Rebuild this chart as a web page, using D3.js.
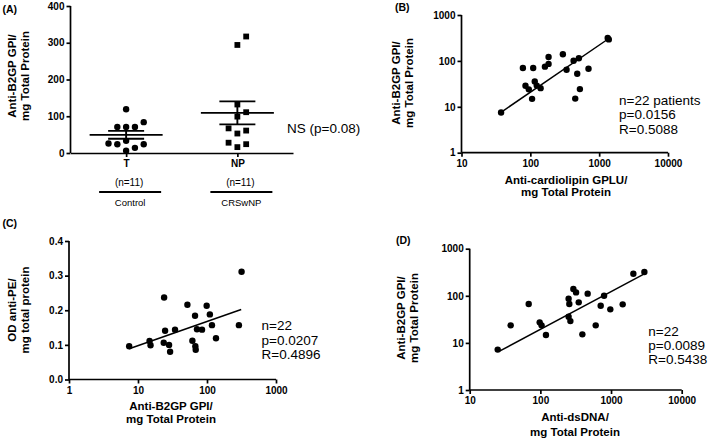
<!DOCTYPE html>
<html>
<head>
<meta charset="utf-8">
<script src="https://cdn.jsdelivr.net/npm/d3@7"></script>
<style>
  html, body { margin: 0; padding: 0; background: #fff; }
  svg { display: block; font-family: "Liberation Sans", Arial, sans-serif; }
  .tick text { font-weight: bold; font-size: 10px; fill: #000; }
  .domain, .tick line { stroke: #000; stroke-width: 1.7px; }
</style>
</head>
<body>
<svg id="chart" width="709" height="440"></svg>
<script>
// ---------- DATA ----------
// Panel A: Anti-B2GP GPI / mg total protein
const groupsA = ["T", "NP"];
const groupNA = ["(n=11)", "(n=11)"];
const groupLabelA = ["Control", "CRSwNP"];
const valuesT = [119, 71, 71, 71, 84, 26, 24, 33, 14, 24, 6];
const valuesNP = [294, 317, 132, 111, 99, 67, 61, 53, 28, 16, 24];
const ticksA = [0, 100, 200, 300, 400];
const noteA = "NS (p=0.08)";

// Panel B: anti-cardiolipin (x) vs anti-B2GP (y)
const cardiolipinB = [37.6, 78, 85, 95, 106, 110, 116, 124, 141, 163, 184, 184, 297, 336, 425, 449, 480, 507, 525, 700, 1330, 1380];
const b2gpB        = [7.5, 70, 28.7, 24, 14.9, 70, 35.7, 29, 25.5, 75, 122, 86, 140, 64, 101, 15.1, 52.5, 114, 24.3, 67.6, 317, 294];
const fitB = [[38, 7.7], [1350, 300]];
const noteB = ["n=22 patients", "p=0.0156", "R=0.5088"];

// Panel C: anti-B2GP (x) vs OD anti-PE (y)
const b2gpC = [7.45, 14.7, 15.2, 23.9, 24.7, 23.6, 28.2, 29.2, 34.4, 52, 61.4, 67.1, 67.8, 68.6, 71.6, 84.7, 98.9, 110, 118, 135, 290, 317];
const odPEC = [0.096, 0.111, 0.099, 0.237, 0.141, 0.106, 0.100, 0.080, 0.144, 0.216, 0.112, 0.184, 0.096, 0.086, 0.145, 0.144, 0.213, 0.188, 0.157, 0.119, 0.157, 0.311];
const fitC = [[7.45, 0.089], [313, 0.202]];
const noteC = ["n=22", "p=0.0207", "R=0.4896"];

// Panel D: anti-dsDNA (x) vs anti-B2GP (y)
const dsDNAD = [24.9, 38, 68.4, 97.8, 104, 120, 251, 257, 251, 266, 293, 320, 349, 393, 467, 607, 714, 797, 977, 1462, 2070, 2964];
const b2gpD  = [7.2, 23.6, 66.9, 27.3, 23.6, 14.7, 86.8, 66.9, 36, 29, 139, 118, 72.6, 15.2, 111, 23.6, 61.6, 100, 51.5, 65.8, 294, 320];
const fitD = [[26, 6.6], [2870, 285]];
const noteD = ["n=22", "p=0.0089", "R=0.5438"];

const logTicks4 = [10, 100, 1000, 10000];
const logTicks3 = [1, 10, 100, 1000];
const ticksC = [0.0, 0.1, 0.2, 0.3, 0.4];

// ---------- DRAW ----------
const svg = d3.select("#chart");
const fmtInt = d3.format("d");

function panelLabel(txt, x, y) {
  svg.append("text").attr("x", x).attr("y", y).attr("dy", "0.35em")
    .attr("font-size", 10.5).attr("font-weight", "bold").text(txt);
}
function yTitle(lines, cx, cy) {
  const g = svg.append("g").attr("transform", `translate(${cx},${cy}) rotate(-90)`);
  lines.forEach((l, i) => {
    g.append("text").attr("x", 0).attr("y", (i - (lines.length - 1) / 2) * 12.5)
      .attr("dy", "0.35em").attr("text-anchor", "middle")
      .attr("font-size", 11.5).attr("font-weight", "bold").text(l);
  });
}
function xTitle(lines, cx, y0, gap) {
  lines.forEach((l, i) => {
    svg.append("text").attr("x", cx).attr("y", y0 + i * gap).attr("dy", "0.35em")
      .attr("text-anchor", "middle").attr("font-size", 11.5).attr("font-weight", "bold").text(l);
  });
}
function note(lines, x, y0, gap) {
  lines.forEach((l, i) => {
    svg.append("text").attr("x", x).attr("y", y0 + i * gap).attr("dy", "0.35em")
      .attr("font-size", 13.5).text(l);
  });
}

// ---- Panel A ----
(function () {
  const x = d3.scalePoint().domain(groupsA).range([70.5, 293]).padding(0.5);
  const y = d3.scaleLinear().domain([0, 400]).range([153, 6]);
  const ya = svg.append("g").attr("transform", "translate(70.5,0)")
    .call(d3.axisLeft(y).tickValues(ticksA).tickSize(4).tickPadding(2).tickFormat(fmtInt))
    .call(g => g.select(".domain").attr("d", `M0,${y(400)}V${y(0)}`));
  ya.selectAll(".tick text").attr("font-size", 11);
  const xa = svg.append("g").attr("transform", `translate(0,${y(0)})`)
    .call(d3.axisBottom(x).tickSize(4).tickPadding(3).tickSizeOuter(0));
  xa.selectAll(".tick text").attr("font-size", 11.5);

  const spacing = 8.8, dyThresh = 9;
  const order = [0, 1, -1, 2, -2, 3, -3];
  function swarm(vals) {
    const placed = [];
    vals.slice().sort((a, b) => a - b).forEach(v => {
      const py = y(v);
      for (const k of order) {
        if (!placed.some(p => p.k === k && Math.abs(p.py - py) < dyThresh)) {
          placed.push({ v, py, k }); break;
        }
      }
    });
    return placed;
  }
  const sets = [valuesT, valuesNP];
  sets.forEach((vals, gi) => {
    const cx = x(groupsA[gi]);
    const pts = swarm(vals);
    if (gi === 0) {
      svg.append("g").selectAll("circle").data(pts).join("circle")
        .attr("cx", d => cx + d.k * spacing).attr("cy", d => d.py).attr("r", 3.2).attr("fill", "#000");
    } else {
      svg.append("g").selectAll("rect").data(pts).join("rect")
        .attr("x", d => cx + d.k * spacing - 2.9).attr("y", d => d.py - 2.9)
        .attr("width", 5.8).attr("height", 5.8).attr("fill", "#000");
    }
    const m = d3.mean(vals), sem = d3.deviation(vals) / Math.sqrt(vals.length);
    const g = svg.append("g").attr("stroke", "#000").attr("stroke-width", 1.9);
    g.append("line").attr("x1", cx - 36.5).attr("x2", cx + 36.5).attr("y1", y(m)).attr("y2", y(m));
    g.append("line").attr("x1", cx - 18).attr("x2", cx + 18).attr("y1", y(m + sem)).attr("y2", y(m + sem));
    g.append("line").attr("x1", cx - 18).attr("x2", cx + 18).attr("y1", y(m - sem)).attr("y2", y(m - sem));
    g.append("line").attr("x1", cx).attr("x2", cx).attr("y1", y(m + sem)).attr("y2", y(m - sem));

    svg.append("text").attr("x", cx + 3).attr("y", 182).attr("dy", "0.35em")
      .attr("text-anchor", "middle").attr("font-size", 10).text(groupNA[gi]);
    svg.append("line").attr("x1", cx + 4 - 31).attr("x2", cx + 4 + 31).attr("y1", 192).attr("y2", 192)
      .attr("stroke", "#000").attr("stroke-width", 1.9);
    svg.append("text").attr("x", cx + 4).attr("y", 202.5).attr("dy", "0.35em")
      .attr("text-anchor", "middle").attr("font-size", 9.5).text(groupLabelA[gi]);
  });
  svg.append("text").attr("x", 287).attr("y", 128).attr("dy", "0.35em")
    .attr("font-size", 13.5).text(noteA);
  panelLabel("(A)", 2.5, 9);
  yTitle(["Anti-B2GP GPI/", "mg Total Protein"], 18.5, 76);
})();

// ---- scatter panels ----
function scatter(opt) {
  const x = opt.xScale, y = opt.yScale;
  const ya = svg.append("g").attr("transform", `translate(${x.range()[0]},0)`)
    .call(d3.axisLeft(y).tickValues(opt.yTicks).tickSize(4).tickPadding(2).tickFormat(opt.yFmt));
  ya.select(".domain").attr("d", `M0,${y.range()[1]}V${y.range()[0]}`);
  if (opt.yFont) ya.selectAll(".tick text").attr("font-size", opt.yFont);
  const xa = svg.append("g").attr("transform", `translate(0,${y.range()[0]})`)
    .call(d3.axisBottom(x).tickValues(opt.xTicks).tickSize(4).tickPadding(3).tickFormat(fmtInt));
  xa.select(".domain").attr("d", `M${x.range()[0]},0H${x.range()[1]}`);

  svg.append("line")
    .attr("x1", x(opt.fit[0][0])).attr("y1", y(opt.fit[0][1]))
    .attr("x2", x(opt.fit[1][0])).attr("y2", y(opt.fit[1][1]))
    .attr("stroke", "#000").attr("stroke-width", 1.5);
  svg.append("g").selectAll("circle").data(opt.xs.map((v, i) => [v, opt.ys[i]])).join("circle")
    .attr("cx", d => x(d[0])).attr("cy", d => y(d[1])).attr("r", 3.2).attr("fill", "#000");
}

// B
scatter({
  xScale: d3.scaleLog().domain([10, 10000]).range([461.5, 668]),
  yScale: d3.scaleLog().domain([1, 1000]).range([152.7, 15]),
  xTicks: logTicks4, yTicks: logTicks3, yFmt: fmtInt,
  xs: cardiolipinB, ys: b2gpB, fit: fitB
});
panelLabel("(B)", 395, 7);
yTitle(["Anti-B2GP GPI/", "mg Total Protein"], 402.5, 83);
xTitle(["Anti-cardiolipin GPLU/", "mg Total Protein"], 566, 179.5, 12.8);
note(noteB, 619, 100, 14.5);

// C
scatter({
  xScale: d3.scaleLog().domain([1, 1000]).range([69, 276]),
  yScale: d3.scaleLinear().domain([0, 0.4]).range([379.5, 241]),
  xTicks: logTicks3, yTicks: ticksC, yFmt: d3.format(".1f"), yFont: 10.5,
  xs: b2gpC, ys: odPEC, fit: fitC
});
panelLabel("(C)", 2.5, 223.5);
yTitle(["OD anti-PE/", "mg total protein"], 18.5, 310);
xTitle(["Anti-B2GP GPI/", "mg Total Protein"], 171, 405.5, 13.8);
note(noteC, 261.5, 325.7, 14.3);

// D
scatter({
  xScale: d3.scaleLog().domain([10, 10000]).range([469.7, 681.7]),
  yScale: d3.scaleLog().domain([1, 1000]).range([390, 248.7]),
  xTicks: logTicks4, yTicks: logTicks3, yFmt: fmtInt,
  xs: dsDNAD, ys: b2gpD, fit: fitD
});
panelLabel("(D)", 396, 240);
yTitle(["Anti-B2GP GPI/", "mg Total Protein"], 407.5, 318);
xTitle(["Anti-dsDNA/", "mg Total Protein"], 575, 417, 14.8);
note(noteD, 648.3, 331, 14);
</script>
</body>
</html>
